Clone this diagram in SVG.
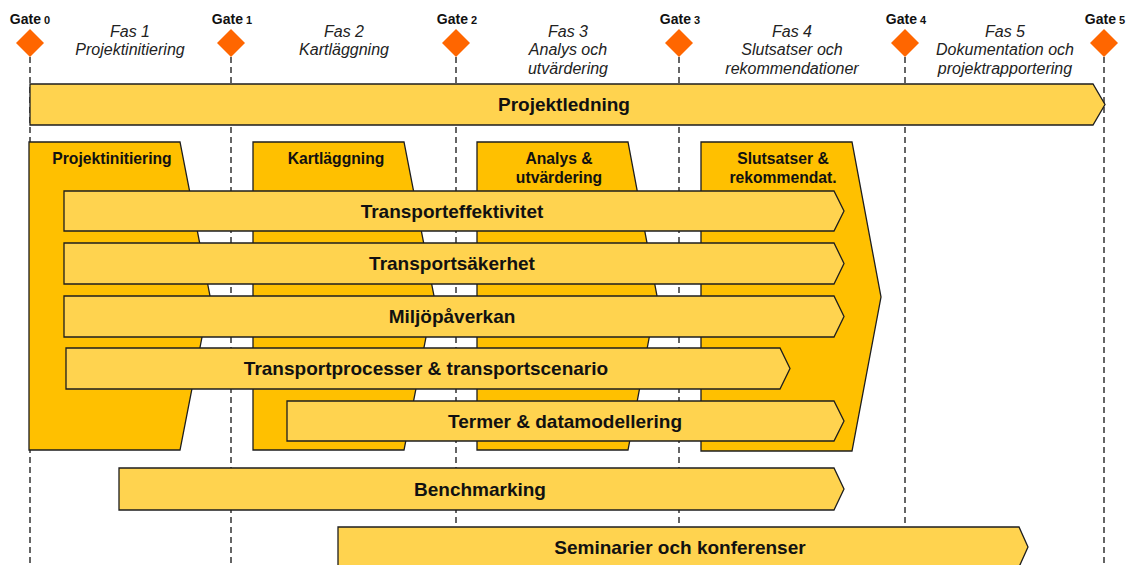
<svg xmlns="http://www.w3.org/2000/svg" width="1129" height="565" viewBox="0 0 1129 565">
  <style>
    .gate-line { stroke: #333; stroke-width: 1.5; stroke-dasharray: 6 4; fill: none; }
    .diamond { fill: #FF6600; }
    .gate-label { font-family: "Liberation Sans", Arial, sans-serif; font-weight: bold; font-size: 14px; fill: #111; text-anchor: middle; }
    .gate-num { font-size: 11px; }
    .phase { font-family: "Liberation Sans", Arial, sans-serif; font-style: italic; font-size: 16px; fill: #222; text-anchor: middle; }
    .block { fill: #FFC000; stroke: #1e1e1e; stroke-width: 1.3; stroke-linejoin: miter; }
    .block-label { font-family: "Liberation Sans", Arial, sans-serif; font-weight: bold; font-size: 15.7px; fill: #111; text-anchor: middle; }
    .bar { fill: #FFD34F; stroke: #1e1e1e; stroke-width: 1.3; stroke-linejoin: miter; }
    .bar-label { font-family: "Liberation Sans", Arial, sans-serif; font-weight: bold; font-size: 19px; fill: #111; text-anchor: middle; }
  </style>
  <rect width="1129" height="565" fill="#fff"/>

  <!-- gate milestones with dashed guide lines -->
  <g id="connectors">
    <line class="gate-line" x1="30" y1="57" x2="30" y2="565"/>
    <line class="gate-line" x1="231" y1="57" x2="231" y2="565"/>
    <line class="gate-line" x1="456" y1="57" x2="456" y2="565"/>
    <line class="gate-line" x1="679" y1="57" x2="679" y2="565"/>
    <line class="gate-line" x1="905" y1="57" x2="905" y2="565"/>
    <line class="gate-line" x1="1104" y1="57" x2="1104" y2="565"/>
  </g>

  <g id="gate0"><text class="gate-label" x="30" y="24">Gate<tspan class="gate-num"> 0</tspan></text><polygon class="diamond" points="30,29 44,43 30,57 16,43"/></g>
  <g id="gate1"><text class="gate-label" x="232" y="24">Gate<tspan class="gate-num"> 1</tspan></text><polygon class="diamond" points="231,29 245,43 231,57 217,43"/></g>
  <g id="gate2"><text class="gate-label" x="457" y="24">Gate<tspan class="gate-num"> 2</tspan></text><polygon class="diamond" points="456,29 470,43 456,57 442,43"/></g>
  <g id="gate3"><text class="gate-label" x="680" y="24">Gate<tspan class="gate-num"> 3</tspan></text><polygon class="diamond" points="679,29 693,43 679,57 665,43"/></g>
  <g id="gate4"><text class="gate-label" x="906" y="24">Gate<tspan class="gate-num"> 4</tspan></text><polygon class="diamond" points="905,29 919,43 905,57 891,43"/></g>
  <g id="gate5"><text class="gate-label" x="1105" y="24">Gate<tspan class="gate-num"> 5</tspan></text><polygon class="diamond" points="1104,29 1118,43 1104,57 1090,43"/></g>

  <!-- phase headings -->
  <g id="fas1"><text class="phase" x="130" y="37">Fas 1</text><text class="phase" x="130" y="55">Projektinitiering</text></g>
  <g id="fas2"><text class="phase" x="344" y="37">Fas 2</text><text class="phase" x="344" y="55">Kartläggning</text></g>
  <g id="fas3"><text class="phase" x="568" y="37">Fas 3</text><text class="phase" x="568" y="55">Analys och</text><text class="phase" x="568" y="74">utvärdering</text></g>
  <g id="fas4"><text class="phase" x="792" y="37">Fas 4</text><text class="phase" x="792" y="55">Slutsatser och</text><text class="phase" x="792" y="74">rekommendationer</text></g>
  <g id="fas5"><text class="phase" x="1005" y="37">Fas 5</text><text class="phase" x="1005" y="55">Dokumentation och</text><text class="phase" x="1005" y="74">projektrapportering</text></g>

  <!-- overall project management arrow -->
  <g id="projektledning">
    <polygon class="bar" points="30,84 1093,84 1105,104.5 1093,125 30,125"/>
    <text class="bar-label" x="564" y="111">Projektledning</text>
  </g>

  <!-- phase work blocks -->
  <g id="block-projektinitiering">
    <polygon class="block" points="29,142 180,142 210,296 180,450 29,450"/>
    <text class="block-label" x="112" y="164">Projektinitiering</text>
  </g>
  <g id="block-kartlaggning">
    <polygon class="block" points="253,142 404,142 434,296 404,450 253,450"/>
    <text class="block-label" x="336" y="164">Kartläggning</text>
  </g>
  <g id="block-analys">
    <polygon class="block" points="477,142 628,142 657,296 628,450 477,450"/>
    <text class="block-label" x="559" y="164">Analys &amp;</text>
    <text class="block-label" x="559" y="183">utvärdering</text>
  </g>
  <g id="block-slutsatser">
    <polygon class="block" points="701,142 852,142 881,297 852,451 701,451"/>
    <text class="block-label" x="783" y="164">Slutsatser &amp;</text>
    <text class="block-label" x="783" y="183">rekommendat.</text>
  </g>

  <!-- work streams -->
  <g id="transporteffektivitet">
    <polygon class="bar" points="64,191 834,191 844,211 834,231 64,231"/>
    <text class="bar-label" x="452" y="218">Transporteffektivitet</text>
  </g>
  <g id="transportsakerhet">
    <polygon class="bar" points="64,243 834,243 844,263.5 834,284 64,284"/>
    <text class="bar-label" x="452" y="270">Transportsäkerhet</text>
  </g>
  <g id="miljopaverkan">
    <polygon class="bar" points="64,296 834,296 844,316.5 834,337 64,337"/>
    <text class="bar-label" x="452" y="323">Miljöpåverkan</text>
  </g>
  <g id="transportprocesser">
    <polygon class="bar" points="66,348 780,348 790,368.5 780,389 66,389"/>
    <text class="bar-label" x="426" y="375">Transportprocesser &amp; transportscenario</text>
  </g>
  <g id="termer">
    <polygon class="bar" points="287,401 834,401 844,421 834,441 287,441"/>
    <text class="bar-label" x="565" y="428">Termer &amp; datamodellering</text>
  </g>
  <g id="benchmarking">
    <polygon class="bar" points="119,468 834,468 844,489 834,510 119,510"/>
    <text class="bar-label" x="480" y="496">Benchmarking</text>
  </g>
  <g id="seminarier">
    <polygon class="bar" points="338,527 1019,527 1028,547 1019,567 338,567"/>
    <text class="bar-label" x="680" y="554">Seminarier och konferenser</text>
  </g>
</svg>
